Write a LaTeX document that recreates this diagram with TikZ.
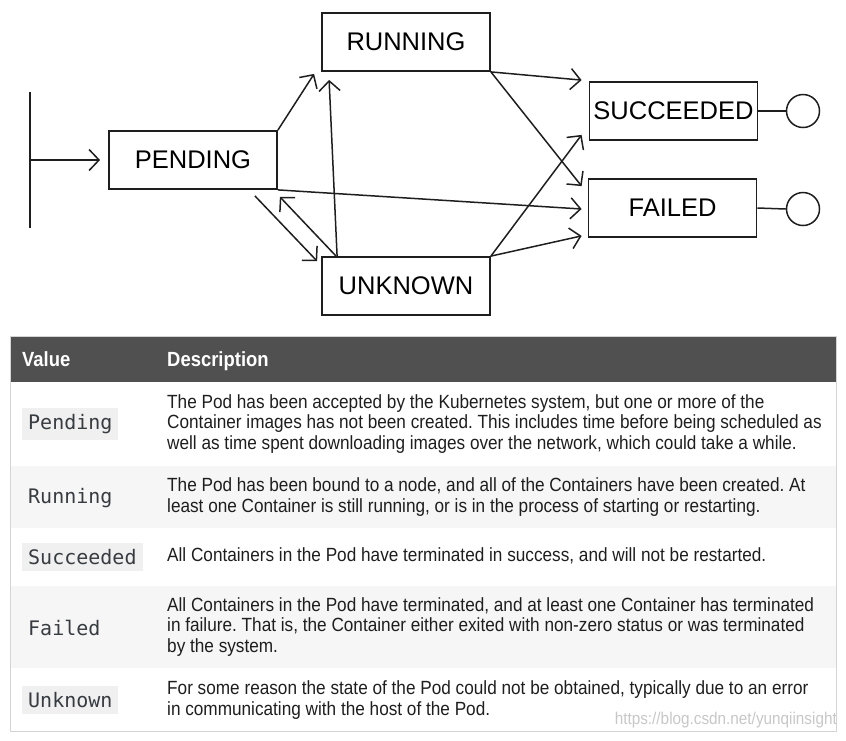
\documentclass[tikz,border=0pt]{standalone}
\usepackage{fontspec}
\setmainfont{Liberation Sans}
\newfontfamily\tabfont[FakeStretch=0.9]{Liberation Sans}
\newfontfamily\codefont{DejaVu Sans Mono}
\usetikzlibrary{arrows.meta}
\definecolor{inkgray}{RGB}{30,30,30}
\definecolor{headgray}{RGB}{80,80,80}
\definecolor{rowgray}{RGB}{246,246,246}
\definecolor{codebg}{RGB}{240,240,240}
\definecolor{codetext}{RGB}{55,60,65}
\definecolor{bordergray}{RGB}{212,212,212}
\frenchspacing

\begin{document}
\begin{tikzpicture}[x=1pt, y=-1pt,
  state/.style={draw=inkgray, line width=1.8pt, minimum width=168pt, minimum height=58pt,
    inner sep=0pt, font=\fontsize{25.5}{30}\selectfont},
  final/.style={circle, draw=inkgray, line width=1.5pt, minimum size=33pt, inner sep=0pt},
  trans/.style={draw=inkgray, line width=1.5pt, -{Straight Barb[length=10pt,width=21pt]}},
  codelbl/.style={anchor=west, fill=codebg, text=codetext, inner sep=6pt,
    font=\codefont\fontsize{20}{24}\selectfont},
  head/.style={anchor=base west, inner sep=0pt, text=white, font=\tabfont\bfseries\fontsize{20.5}{24}\selectfont},
  desc/.style={anchor=west, align=left, inner sep=0pt, text=inkgray,
    font=\tabfont\fontsize{19.1}{20.6}\selectfont}]
  \useasboundingbox (0,0) rectangle (846,740);

  % Stati
  \node[state] (pend) at (193,160) {PENDING};
  \node[state] (run)  at (406,42)  {RUNNING};
  \node[state] (unk)  at (406,286) {UNKNOWN};
  \node[state] (succ) at (673.5,111) {SUCCEEDED};
  \node[state] (fail) at (672.5,208) {FAILED};

  % Inizio e fine
  \draw[inkgray, line width=1.4pt] (30,92) -- (30,228);
  \coordinate (init) at (30,160);
  \node[final] (succend) at (803,111) {};
  \node[final] (failend) at (803,209) {};
  \draw[inkgray, line width=1.5pt] (succ.east) -- (succend.west);
  \draw[inkgray, line width=1.5pt] (fail.east) -- (failend.west);

  % Transizioni
  \draw[trans] (init) -- ([xshift=-8pt]pend.west);
  \draw[trans] (pend.north east) -- ([xshift=-7pt,yshift=-2pt]run.south west);
  \draw[trans] ([xshift=16pt]unk.north west) -- ([xshift=8pt,yshift=-8pt]run.south west);
  \draw[trans] (pend.south east) -- ([xshift=-6pt,yshift=-1pt]fail.west);
  \draw[trans] ([xshift=-23pt,yshift=-6pt]pend.south east) -- ([xshift=-4pt,yshift=-5pt]unk.north west);
  \draw[trans] ([xshift=15pt]unk.north west) -- ([xshift=2pt,yshift=-7pt]pend.south east);
  \draw[trans] (run.south east) -- ([xshift=-7pt,yshift=1pt]succ.north west);
  \draw[trans] (run.south east) -- ([xshift=-6pt,yshift=-8pt]fail.north west);
  \draw[trans] (unk.north east) -- ([xshift=-7pt,yshift=6pt]succ.south west);
  \draw[trans] (unk.north east) -- ([xshift=-6pt,yshift=2pt]fail.south west);

  % Tabella
  \fill[headgray] (10,336) rectangle (836,382);
  \fill[rowgray] (10,466) rectangle (836,528);
  \fill[rowgray] (10,586) rectangle (836,668);
  \draw[bordergray, line width=1pt] (10,336) rectangle (836,731);
  \node[head] (hval)  at (22,366)  {Value};
  \node[head] (hdesc) at (167,366) {Description};

  \node[codelbl] (vpend) at (22,424) {Pending};
  \node[desc] (dpend) at (167,424) {The Pod has been accepted by the Kubernetes system, but one or more of the\\
    Container images has not been created. This includes time before being scheduled as\\
    well as time spent downloading images over the network, which could take a while.};
  \node[codelbl, fill=none] (vrun) at (22,498) {Running};
  \node[desc] (drun) at (167,497) {The Pod has been bound to a node, and all of the Containers have been created. At\\
    least one Container is still running, or is in the process of starting or restarting.};
  \node[codelbl] (vsucc) at (22,557) {Succeeded};
  \node[desc] (dsucc) at (167,556) {All Containers in the Pod have terminated in success, and will not be restarted.};
  \node[codelbl, fill=none] (vfail) at (22,628) {Failed};
  \node[desc] (dfail) at (167,627) {All Containers in the Pod have terminated, and at least one Container has terminated\\
    in failure. That is, the Container either exited with non-zero status or was terminated\\
    by the system.};
  \node[codelbl] (vunk) at (22,700) {Unknown};
  \node[desc] (dunk) at (167,700) {For some reason the state of the Pod could not be obtained, typically due to an error\\
    in communicating with the host of the Pod.};

  \node[anchor=east, inner sep=0pt, text=black!22, font=\tabfont\fontsize{17}{20}\selectfont]
    (wmark) at (837,720) {https://blog.csdn.net/yunqiinsight};
\end{tikzpicture}
\end{document}
